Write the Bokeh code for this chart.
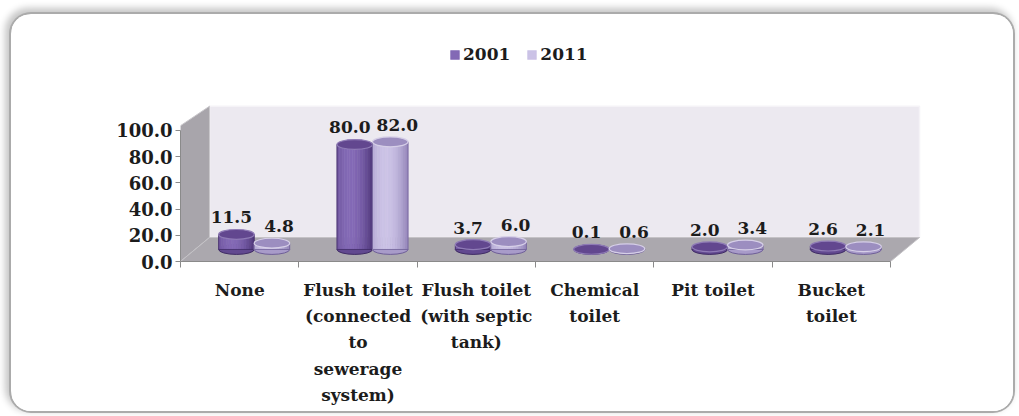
import math

from bokeh.core.properties import value
from bokeh.embed import file_html
from bokeh.models import (ColumnDataSource, FixedTicker, Legend, LegendItem,
                          NumeralTickFormatter, Range1d)
from bokeh.plotting import figure
from bokeh.resources import INLINE

# ---- data -------------------------------------------------------------
categories = [
    "None",
    "Flush toilet\n(connected\nto\nsewerage\nsystem)",
    "Flush toilet\n(with septic\ntank)",
    "Chemical\ntoilet",
    "Pit toilet",
    "Bucket\ntoilet",
]
series_names = ["2001", "2011"]
values_2001 = [11.5, 80.0, 3.7, 0.1, 2.0, 2.6]
values_2011 = [4.8, 82.0, 6.0, 0.6, 3.4, 2.1]
y_ticks = [0, 20, 40, 60, 80, 100]

# ---- pseudo-3D geometry (in data units) --------------------------------
DX = 0.245      # depth shift along x (category units)
DY = 18.3       # depth shift along y (value units)
BW = 0.30       # cylinder width
EH = 7.5        # ellipse height of cylinder caps
NSTRIP = 14     # strips used to shade each cylinder body
N = len(categories)

FONT = "DejaVu Serif"

styles = {
    "2001": dict(edge=(70, 46, 112), hi=(132, 106, 182), top="#62478f",
                 top_line="#8f7bb6", outline="#3f2b64", label_dx=-5),
    "2011": dict(edge=(138, 122, 178), hi=(204, 195, 230), top="#9c8ec0",
                 top_line="#d6cfe7", outline="#6e5e97", label_dx=7),
}

p = figure(
    width=1002, height=397, output_backend="svg", toolbar_location=None,
    x_range=Range1d(0, 6.27), y_range=Range1d(0, 176),
    min_border_left=169, min_border_right=91,
    min_border_top=16, min_border_bottom=150,
    background_fill_color="white", border_fill_color="white",
    outline_line_color=None,
)
p.grid.visible = False

# rounded card around the chart, shadow cast towards the top-left
p.margin = (14, 6, 5, 11)
p.styles = {
    "border-radius": "20px",
    "overflow": "hidden",
    "box-shadow": "0 0 0 2px #ababab, -3px -3px 7px 3px #c6c6c6",
}

# ---- walls and floor ------------------------------------------------------
top_v = y_ticks[-1]
p.patch([DX, N + DX, N + DX, DX], [DY, DY, top_v + DY, top_v + DY],
        fill_color="#ECE9F0", line_color="#f5f3f7", line_width=1.5)
p.patch([0, DX, DX, 0], [0, DY, top_v + DY, top_v + 3.5],
        fill_color="#A8A5AB", line_color="#c9c7cb", line_width=1)
p.patch([0, N, N + DX, DX], [0, 0, DY, DY],
        fill_color="#ABA8AE", line_color="#c4c2c6", line_width=1)


def mix(a, b, f):
    return "#%02x%02x%02x" % tuple(int(round(a[k] + (b[k] - a[k]) * f)) for k in range(3))


def shade(t):
    return max(0.0, math.cos((t - 0.38) * math.pi / 1.35)) ** 0.9


body_renderers = []
for s, (name, vals) in enumerate(zip(series_names, [values_2001, values_2011])):
    st = styles[name]
    cx = [i + 0.5 + (s - 0.5) * BW + DX / 2 for i in range(N)]
    base = DY / 2
    tops = [base + v for v in vals]

    # bottom caps
    p.ellipse(x=cx, y=[base] * N, width=BW, height=EH,
              fill_color=mix(st["edge"], st["hi"], 0.45), line_color=st["outline"],
              line_width=1)

    # shaded body strips
    left, right, bottom, top, colors = [], [], [], [], []
    for i in range(N):
        for j in range(NSTRIP):
            x0 = cx[i] - BW / 2 + j * BW / NSTRIP
            left.append(x0)
            right.append(x0 + BW / NSTRIP)
            bottom.append(base)
            top.append(tops[i])
            colors.append(mix(st["edge"], st["hi"], shade((j + 0.5) / NSTRIP)))
    src = ColumnDataSource(dict(left=left, right=right, bottom=bottom, top=top, color=colors))
    r = p.quad(left="left", right="right", bottom="bottom", top="top", source=src,
               fill_color="color", line_color="color", line_width=0.6)
    body_renderers.append(r)

    # body outline
    p.quad(left=[c - BW / 2 for c in cx], right=[c + BW / 2 for c in cx],
           bottom=[base] * N, top=tops, fill_color=None,
           line_color=st["outline"], line_width=0.8)

    # top caps
    p.ellipse(x=cx, y=tops, width=BW, height=EH,
              fill_color=st["top"], line_color=st["top_line"], line_width=1.2)

    # value labels
    p.text(x=cx, y=tops, text=["%.1f" % v for v in vals],
           text_font=value(FONT), text_font_style="bold", text_font_size="17px",
           text_color="#1c1c1c", text_align="center", text_baseline="middle",
           x_offset=st["label_dx"], y_offset=-17)

# ---- axes -------------------------------------------------------------------
yax = p.yaxis[0]
yax.ticker = FixedTicker(ticks=y_ticks)
yax.formatter = NumeralTickFormatter(format="0.0")
yax.bounds = (0, y_ticks[-1])
yax.axis_line_color = "#8a8a8a"
yax.major_tick_line_color = "#8a8a8a"
yax.major_tick_out = 5
yax.major_tick_in = 0
yax.minor_tick_line_color = None
yax.major_label_standoff = 3
yax.major_label_text_font = FONT
yax.major_label_text_font_style = "bold"
yax.major_label_text_font_size = "18px"
yax.major_label_text_color = "#1c1c1c"

xax = p.xaxis[0]
centers = [i + 0.5 for i in range(N)]
xax.ticker = FixedTicker(ticks=centers, minor_ticks=list(range(N + 1)))
xax.major_label_overrides = {c: lab for c, lab in zip(centers, categories)}
xax.bounds = (0, N)
xax.axis_line_color = "#8a8a8a"
xax.major_tick_line_color = None
xax.minor_tick_line_color = "#8a8a8a"
xax.minor_tick_out = 6
xax.minor_tick_in = 0
xax.major_label_standoff = 12
xax.major_label_text_font = FONT
xax.major_label_text_font_style = "bold"
xax.major_label_text_font_size = "17px"
xax.major_label_text_line_height = 1.32
xax.major_label_text_color = "#1c1c1c"

# ---- legend -------------------------------------------------------------------
mid = NSTRIP // 3
legend = Legend(
    items=[LegendItem(label=name, renderers=[r], index=mid)
           for name, r in zip(series_names, body_renderers)],
    location=(269, 197), orientation="horizontal",
    label_text_font=FONT, label_text_font_style="bold", label_text_font_size="17px",
    label_text_color="#1c1c1c", glyph_width=11, glyph_height=11,
    label_standoff=3, spacing=16, padding=0, margin=0,
    border_line_color=None, background_fill_alpha=0,
)
p.add_layout(legend)

open("out.html", "w").write(file_html(p, INLINE))
